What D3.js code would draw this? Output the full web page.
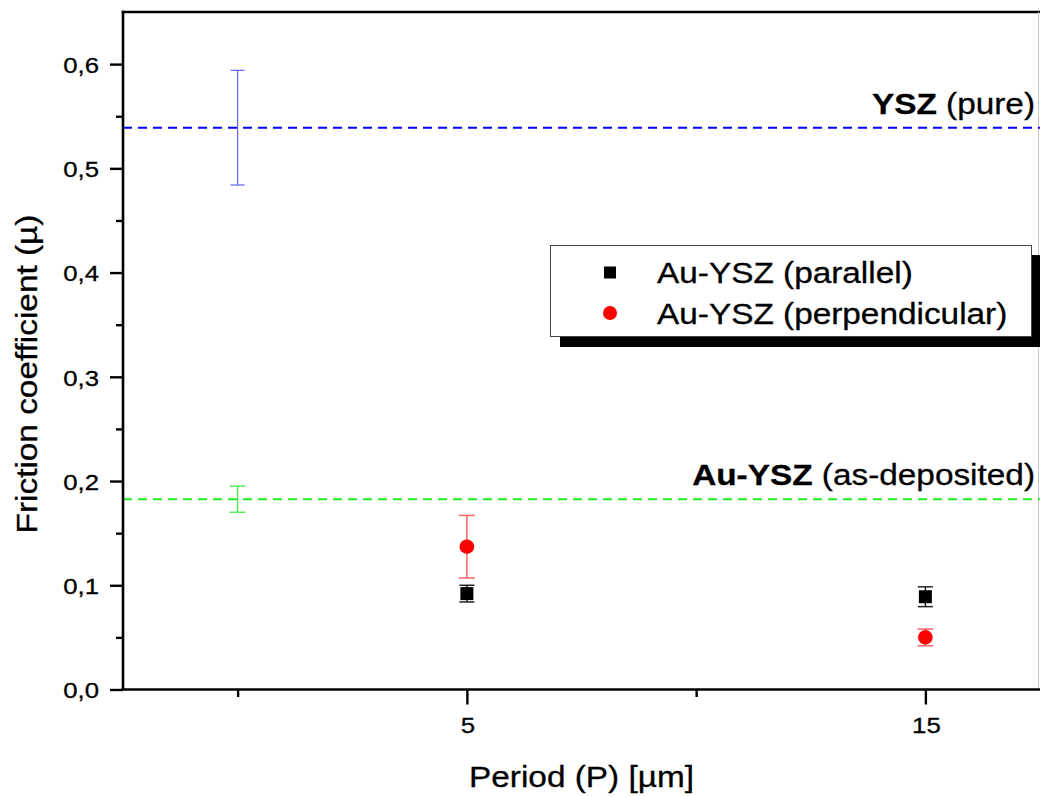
<!DOCTYPE html>
<html>
<head>
<meta charset="utf-8">
<script src="https://cdn.jsdelivr.net/npm/d3@7"></script>
<style>
  html, body { margin: 0; padding: 0; background: #fff; }
  svg { display: block; }
  text { font-family: "Liberation Sans", Arial, sans-serif; fill: #000; stroke: #000; stroke-width: 0.3px; }
</style>
</head>
<body>
<svg id="chart" width="1040" height="797"></svg>
<script>
// ---- data ----
const periods = [5, 15];
const parallelValues = [0.092, 0.089];
const parallelErrors = [0.008, 0.0095];
const perpendicularValues = [0.137, 0.050];
const perpendicularErrors = [0.030, 0.008];
const referenceX = 0;
const pureYSZValue = 0.539;
const pureYSZError = 0.055;
const asDepositedValue = 0.1826;
const asDepositedError = 0.0125;
const yMajorTicks = [0, 0.1, 0.2, 0.3, 0.4, 0.5, 0.6];
const yTickLabels = ["0,0", "0,1", "0,2", "0,3", "0,4", "0,5", "0,6"];
const yMinorTicks = [0.05, 0.15, 0.25, 0.35, 0.45, 0.55];
const xMajorTicks = [5, 15];
const xTickLabels = ["5", "15"];
const xMinorTicks = [0, 10];
const seriesNames = ["Au-YSZ (parallel)", "Au-YSZ (perpendicular)"];

// ---- layout ----
const L = 123, R = 1040, T = 12, B = 689.5;
const svg = d3.select("#chart");
const x = d3.scaleLinear().domain([-2.5, 17.5]).range([L, R]);
const y = d3.scaleLinear().domain([0, 0.65]).range([B, T]);

const BIG = 29, SX = 1.15, TICK = 23, TSX = 1.12;

// stretched text helper
function stext(parent, tx, ty, anchor, size, sx, rot) {
  const g = parent.append("g")
    .attr("transform", `translate(${tx},${ty})` + (rot ? ` rotate(${rot})` : "") + ` scale(${sx},1)`);
  return g.append("text").attr("text-anchor", anchor).attr("font-size", size);
}

// frame: top border and faint right edge
svg.append("line").attr("x1", L - 1.3).attr("x2", R).attr("y1", T).attr("y2", T)
  .attr("stroke", "#000").attr("stroke-width", 2.6);
svg.append("line").attr("x1", 1038.5).attr("x2", 1038.5).attr("y1", T).attr("y2", B)
  .attr("stroke", "#c8c8c8").attr("stroke-width", 1);

// reference dashed lines
function hline(v, color) {
  svg.append("line").attr("x1", L).attr("x2", R).attr("y1", y(v)).attr("y2", y(v))
    .attr("stroke", color).attr("stroke-width", 2).attr("stroke-dasharray", "9,6");
}
hline(pureYSZValue, "#0000ff");
hline(asDepositedValue, "#22ee22");

// error bars
function errbar(cx, v, e, color, w, cap) {
  const g = svg.append("g").attr("stroke", color).attr("stroke-width", w);
  g.append("line").attr("x1", x(cx)).attr("x2", x(cx)).attr("y1", y(v + e)).attr("y2", y(v - e));
  g.append("line").attr("x1", x(cx) - cap).attr("x2", x(cx) + cap).attr("y1", y(v + e)).attr("y2", y(v + e));
  g.append("line").attr("x1", x(cx) - cap).attr("x2", x(cx) + cap).attr("y1", y(v - e)).attr("y2", y(v - e));
}
errbar(referenceX, pureYSZValue, pureYSZError, "#6a6aff", 1.3, 7);
errbar(referenceX, asDepositedValue, asDepositedError, "#44ee44", 1.3, 8);
periods.forEach((p, i) => {
  errbar(p, perpendicularValues[i], perpendicularErrors[i], "#ff6464", 1.5, 8);
  errbar(p, parallelValues[i], parallelErrors[i], "#222", 1.5, 7.5);
});

// markers
svg.append("g").selectAll("rect").data(periods).join("rect")
  .attr("x", d => x(d) - 6.5).attr("y", (d, i) => y(parallelValues[i]) - 6.5)
  .attr("width", 13).attr("height", 13).attr("fill", "#000");
svg.append("g").selectAll("circle").data(periods).join("circle")
  .attr("cx", d => x(d)).attr("cy", (d, i) => y(perpendicularValues[i]))
  .attr("r", 7.3).attr("fill", "#ff0000");

// axes
const yAxis = d3.axisLeft(y).tickValues(yMajorTicks).tickSize(13).tickPadding(11)
  .tickSizeOuter(0).tickFormat((d, i) => yTickLabels[i]);
const gy = svg.append("g").attr("transform", `translate(${L},0)`).call(yAxis);
const yMinor = d3.axisLeft(y).tickValues(yMinorTicks).tickSize(7).tickSizeOuter(0).tickFormat("");
const gym = svg.append("g").attr("transform", `translate(${L},0)`).call(yMinor);
gym.select(".domain").remove();

const xAxis = d3.axisBottom(x).tickValues(xMajorTicks).tickSize(15).tickPadding(8)
  .tickSizeOuter(0).tickFormat((d, i) => xTickLabels[i]);
const gx = svg.append("g").attr("transform", `translate(0,${B})`).call(xAxis);
const xMinor = d3.axisBottom(x).tickValues(xMinorTicks).tickSize(7.5).tickSizeOuter(0).tickFormat("");
const gxm = svg.append("g").attr("transform", `translate(0,${B})`).call(xMinor);
gxm.select(".domain").remove();

[gy, gym, gx, gxm].forEach(g => {
  g.attr("font-family", null).attr("font-size", null);
  g.selectAll(".domain").attr("stroke", "#000").attr("stroke-width", 2.6);
  g.selectAll(".tick line").attr("stroke", "#000").attr("stroke-width", 2.4);
  g.selectAll(".tick text").attr("font-size", TICK).attr("fill", "#000")
    .attr("transform", `scale(${TSX},1)`);
});
gy.select(".domain").attr("d", `M0,${T - 1.3}V${B}`);
gx.select(".domain").attr("d", `M${L - 1.3},0H${R}`);
gy.selectAll(".tick text").attr("x", -24 / TSX).attr("dy", "0.36em");
gx.selectAll(".tick text").attr("dy", null).attr("y", 44).attr("x", 0.5);

// axis titles
stext(svg, (L + R) / 2, 787, "middle", BIG, SX).text("Period (P) [µm]");
stext(svg, 37, (533 + 215) / 2, "middle", BIG, SX, -90).text("Friction coefficient (µ)");

// reference labels
function refLabel(bold, rest, v) {
  const t = stext(svg, 1035, y(v) - 14, "end", BIG, SX);
  t.append("tspan").attr("font-weight", "bold").text(bold);
  t.append("tspan").text(rest);
}
refLabel("YSZ", " (pure)", pureYSZValue);
refLabel("Au-YSZ", " (as-deposited)", asDepositedValue);

// legend
const lg = svg.append("g");
lg.append("rect").attr("x", 560).attr("y", 255).attr("width", 485).attr("height", 92).attr("fill", "#000");
lg.append("rect").attr("x", 550.5).attr("y", 245.5).attr("width", 481).attr("height", 91)
  .attr("fill", "#fff").attr("stroke", "#444").attr("stroke-width", 1);
const rowY = [272.5, 313];
lg.append("rect").attr("x", 604).attr("y", rowY[0] - 6).attr("width", 12).attr("height", 12).attr("fill", "#000");
lg.append("circle").attr("cx", 610).attr("cy", rowY[1]).attr("r", 7).attr("fill", "#ff0000");
seriesNames.forEach((name, i) => {
  stext(lg, 657, rowY[i] + 10.5, "start", BIG, SX).text(name);
});
</script>
</body>
</html>
